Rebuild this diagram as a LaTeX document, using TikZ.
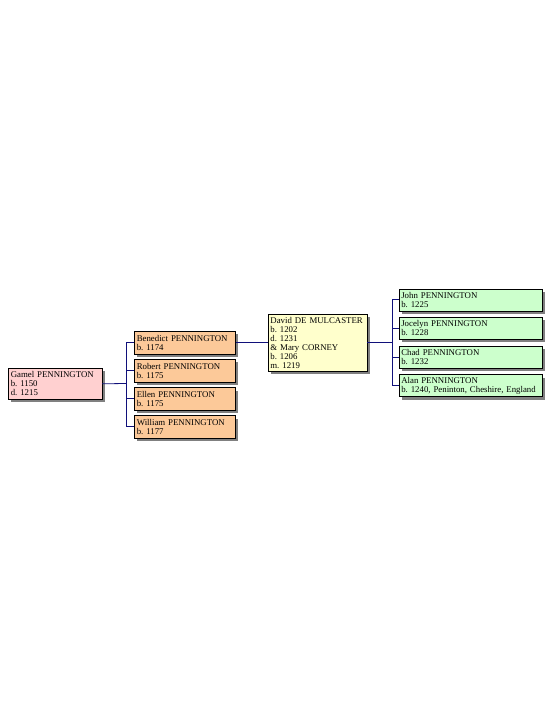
\documentclass[tikz,border=0pt]{standalone}
\usepackage{fontspec}
\setmainfont{Liberation Serif}
\usetikzlibrary{positioning,shadows,calc}
\definecolor{rootfill}{HTML}{FFD0D0}
\definecolor{sibfill}{HTML}{FCC999}
\definecolor{famfill}{HTML}{FFFFCC}
\definecolor{kidfill}{HTML}{CCFFCC}
\definecolor{linkblue}{HTML}{10107A}
\frenchspacing
\tikzset{
  person/.style={draw=black,line width=0.6pt,align=left,inner xsep=2.5pt,inner ysep=2pt,
                 font=\fontsize{8.8}{9}\selectfont,
                 drop shadow={shadow xshift=3pt,shadow yshift=-3pt,fill=black!50,opacity=1}},
  rootbox/.style={person,fill=rootfill,text width=88.5pt,minimum height=31pt},
  sibbox/.style ={person,fill=sibfill,text width=96pt,minimum height=22.5pt},
  fambox/.style ={person,fill=famfill,text width=94pt,minimum height=57.5pt},
  kidbox/.style ={person,fill=kidfill,text width=138pt,minimum height=22pt},
  link/.style   ={draw=linkblue,line width=0.8pt}
}
\begin{document}
\begin{tikzpicture}[x=1pt,y=-1pt]
  \useasboundingbox (0,0) rectangle (552,728);
  \node[rootbox,anchor=north west] (gamel) at (8,368) {Gamel PENNINGTON\\b. 1150\\d. 1215};
  \node[sibbox,anchor=north west] (benedict) at (134,331) {Benedict PENNINGTON\\b. 1174};
  \node[sibbox,below=5pt of benedict] (robert) {Robert PENNINGTON\\b. 1175};
  \node[sibbox,below=5pt of robert] (ellen) {Ellen PENNINGTON\\b. 1175};
  \node[sibbox,below=5pt of ellen] (william) {William PENNINGTON\\b. 1177};
  \node[fambox,right=32pt of benedict] (david)
    {David DE MULCASTER\\b. 1202\\d. 1231\\\& Mary CORNEY\\b. 1206\\m. 1219};
  \node[kidbox,anchor=north west] (john) at (398.5,288.5) {John PENNINGTON\\b. 1225};
  \node[kidbox,below=6pt of john] (jocelyn) {Jocelyn PENNINGTON\\b. 1228};
  \node[kidbox,below=6pt of jocelyn] (chad) {Chad PENNINGTON\\b. 1232};
  \node[kidbox,below=6pt of chad] (alan) {Alan PENNINGTON\\b. 1240, Peninton, Cheshire, England};
  % family links
  \coordinate (fork1) at (126,383.5);
  \draw[link] (gamel.east) -- (fork1);
  \draw[link] (fork1 |- benedict.west) -- (fork1 |- william.west);
  \foreach \c in {benedict,robert,ellen,william}
    \draw[link] (fork1 |- \c.west) -- (\c.west);
  \draw[link] (benedict.east) -- (david.west);
  \coordinate (fork2) at (392,342);
  \draw[link] (david.east) -- (fork2 |- david.east);
  \draw[link] (fork2 |- john.west) -- (fork2 |- alan.west);
  \foreach \c in {john,jocelyn,chad,alan}
    \draw[link] (fork2 |- \c.west) -- (\c.west);
\end{tikzpicture}
\end{document}
